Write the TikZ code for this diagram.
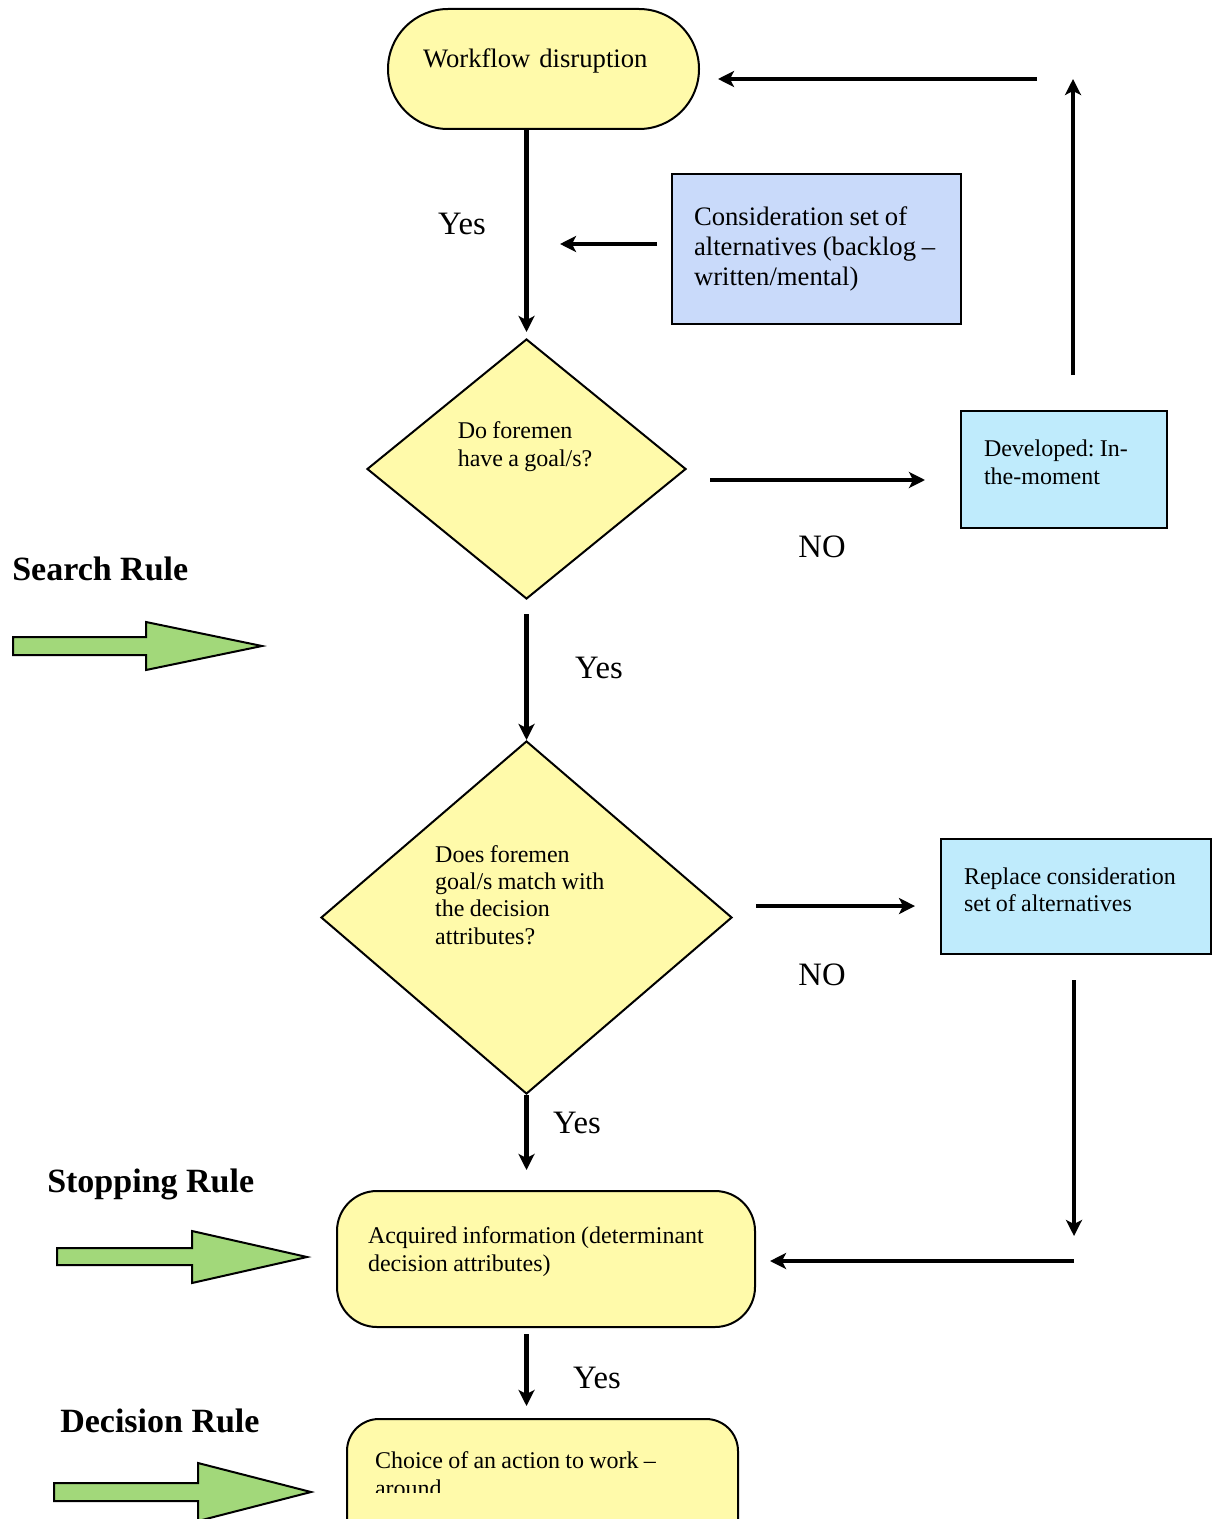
\documentclass[tikz,border=0pt]{standalone}
\usepackage{fontspec}
\setmainfont{Liberation Serif}
\usetikzlibrary{shapes.geometric,arrows.meta}
\definecolor{pale}{RGB}{255,250,170}
\definecolor{lavender}{RGB}{201,218,250}
\definecolor{sky}{RGB}{191,235,252}
\definecolor{leaf}{RGB}{162,216,122}
\newcommand\tightsp{\spaceskip=0.22em plus 0.05em\relax}

\begin{document}
\frenchspacing
\begin{tikzpicture}[x=0.75pt,y=-0.75pt,
    box/.style={draw,line width=1.5pt,anchor=north west,align=left,inner ysep=0pt},
    query/.style={diamond,draw,fill=pale,line width=1.5pt,inner sep=0pt,align=left},
    arr/.style={line width=3.4pt,-{Stealth[length=12pt,width=12pt,inset=3pt]}},
    answer/.style={inner sep=0pt,font=\fontsize{24.5pt}{28pt}\selectfont},
    rule/.style={anchor=base west,inner sep=0pt,font=\fontsize{25.5pt}{30pt}\selectfont\bfseries},
    rulearrow/.style={draw,fill=leaf,line width=1.5pt,line join=miter}]
  \useasboundingbox (0,0) rectangle (1211,1519);

  \node (flow)     at (387,8)    [box,fill=pale,rounded corners=45pt,inner xsep=26.25pt,text width=180.75pt,text height=44.25pt,text depth=45.75pt,font=\fontsize{20pt}{23.25pt}\selectfont] {Workflow disruption};
  \node (consider) at (671,173)  [box,fill=lavender,inner xsep=16.5pt,text width=183.75pt,text height=39pt,text depth=73.5pt,font=\fontsize{20pt}{22.5pt}\selectfont] {\tightsp Consideration set of\\\mbox{alternatives (backlog –}\\written/mental)};
  \node (goal)     at (526.5,469) [query,minimum width=239.25pt,minimum height=195pt,text width=103pt,text height=14pt,text depth=60.5pt,font=\fontsize{18pt}{21pt}\selectfont] {\tightsp Do foremen\\\mbox{have a goal/s?}};
  \node (develop)  at (960,410)  [box,fill=sky,inner xsep=17.25pt,text width=120pt,text height=33.75pt,text depth=54pt,font=\fontsize{18pt}{21pt}\selectfont] {\tightsp Developed: In-\\the-moment};
  \node (match)    at (526.5,917.5) [query,minimum width=308.25pt,minimum height=264.75pt,text width=137pt,text height=14pt,text depth=97.25pt,font=\fontsize{18pt}{20.6pt}\selectfont] {\tightsp Does foremen\\goal/s match with\\the decision\\attributes?};
  \node (replace)  at (940,838)  [box,fill=sky,inner xsep=17.25pt,text width=168pt,text height=33.75pt,text depth=52.5pt,font=\fontsize{18pt}{20.25pt}\selectfont] {\tightsp Replace consideration\\set of alternatives};
  \node (acquire)  at (336,1190) [box,fill=pale,rounded corners=30pt,inner xsep=23.25pt,text width=267pt,text height=39pt,text depth=63pt,font=\fontsize{18pt}{21pt}\selectfont] {\tightsp Acquired information (determinant\\decision attributes)};
  \node (choice)   at (346,1418) [box,fill=pale,rounded corners=24pt,inner xsep=21pt,text width=251.25pt,text height=36.75pt,text depth=70pt,font=\fontsize{18pt}{21pt}\selectfont] {\tightsp Choice of an action to work –\\around};
  \fill[pale] (352,1493) rectangle (731,1519);

  \node (search)   at (12,580)   [rule] {Search Rule};
  \node (stopping) at (47,1192)  [rule] {Stopping Rule};
  \node (decision) at (60,1432)  [rule] {Decision Rule};

  \node (yes1) at (462,224)  [answer] {Yes};
  \node (yes2) at (599,668)  [answer] {Yes};
  \node (yes3) at (577,1123) [answer] {Yes};
  \node (yes4) at (597,1378) [answer] {Yes};
  \node (no1)  at (822,547)  [answer] {NO};
  \node (no2)  at (822,975)  [answer] {NO};

  \coordinate (back)   at (560,244);
  \coordinate (top)    at (1073,79);
  \coordinate (corner) at (1074,1261);

  \draw[arr,shorten >=4.5pt] (flow.south -| goal.north) -- (goal.north);
  \draw[arr,shorten <=10.5pt] (consider.west |- back) -- (back);
  \draw[arr,shorten <=17.25pt,shorten >=26.25pt] ([yshift=-8.25pt]goal.east) -- ([yshift=-8.25pt]goal.east -| develop.west);
  \draw[arr,shorten <=26.25pt] (develop.north -| top) -- (top);
  \draw[arr,shorten <=27pt,shorten >=13.5pt] (top) -- (top -| flow.east);
  \draw[arr,shorten <=10.5pt] (goal.south) -- (match.north);
  \draw[arr,shorten <=17.25pt,shorten >=18.75pt] ([yshift=8.6pt]match.east) -- ([yshift=8.6pt]match.east -| replace.west);
  \draw[arr,shorten <=18.75pt,shorten >=18.75pt] (replace.south -| corner) -- (corner);
  \draw[arr,shorten >=10.5pt] (corner) -- (corner -| acquire.east);
  \draw[arr,shorten >=15pt] (match.south) -- (match.south |- acquire.north);
  \draw[arr,shorten <=4.5pt,shorten >=9pt] (acquire.south -| match.south) -- (match.south |- choice.north);

  \draw[rulearrow,shift={(13,637)}] (0,0) -- (133,0) -- (133,-15) -- (249,9) -- (133,33) -- (133,18) -- (0,18) -- cycle;
  \draw[rulearrow,shift={(57,1248)}] (0,0) -- (135,0) -- (135,-17) -- (250,9) -- (135,35) -- (135,17) -- (0,17) -- cycle;
  \draw[rulearrow,shift={(54,1483)}] (0,0) -- (144,0) -- (144,-20) -- (257,9) -- (144,38) -- (144,18) -- (0,18) -- cycle;
\end{tikzpicture}
\end{document}
